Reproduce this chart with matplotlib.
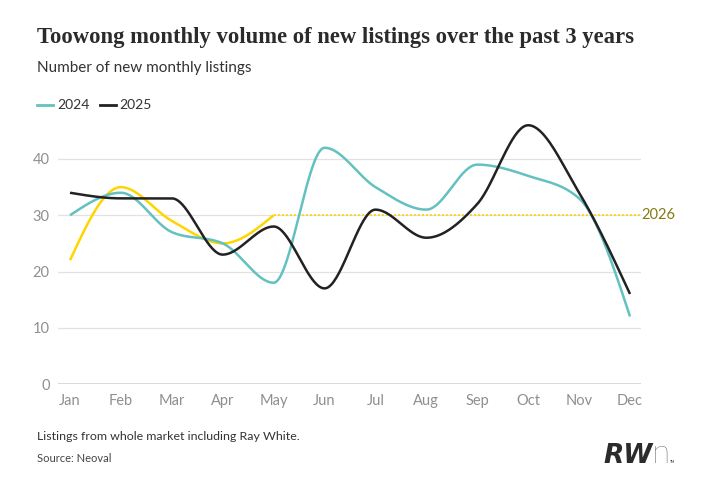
import numpy as np
import matplotlib
matplotlib.use("Agg")
import matplotlib.pyplot as plt

months = ["Jan", "Feb", "Mar", "Apr", "May", "Jun", "Jul", "Aug", "Sep", "Oct", "Nov", "Dec"]
v2024 = [30, 34, 27, 25, 18, 42, 35, 31, 39, 37, 33, 12]
v2025 = [34, 33, 33, 23, 28, 17, 31, 26, 32, 46, 34, 16]
v2026 = [22, 35, 29, 25, 30]
yticks = [0, 10, 20, 30, 40]

TEAL = "#63c1bf"
BLACK = "#222222"
GOLD = "#ffd500"


def monotone_x(x, y, n=40):
    x = np.asarray(x, float)
    y = np.asarray(y, float)
    m = len(x)
    h = np.diff(x)
    s = np.diff(y) / h
    t = np.zeros(m)
    for i in range(1, m - 1):
        h0, h1 = h[i - 1], h[i]
        s0, s1 = s[i - 1], s[i]
        p = (s0 * h1 + s1 * h0) / (h0 + h1)
        t[i] = (np.sign(s0) + np.sign(s1)) * min(abs(s0), abs(s1), 0.5 * abs(p))
    if m > 2:
        t[0] = (3 * s[0] - t[1]) / 2
        t[-1] = (3 * s[-1] - t[-2]) / 2
    else:
        t[:] = s[0]
    xs, ys = [], []
    for i in range(m - 1):
        u = np.linspace(0, 1, n)
        hh = h[i]
        h00 = 2 * u**3 - 3 * u**2 + 1
        h10 = u**3 - 2 * u**2 + u
        h01 = -2 * u**3 + 3 * u**2
        h11 = u**3 - u**2
        xs.append(x[i] + u * hh)
        ys.append(h00 * y[i] + h10 * hh * t[i] + h01 * y[i + 1] + h11 * hh * t[i + 1])
    return np.concatenate(xs), np.concatenate(ys)


plt.rcParams["font.family"] = ["Lato", "DejaVu Sans"]
fig = plt.figure(figsize=(7.08, 4.99), dpi=100)
W, H = 708, 499
ax = fig.add_axes([58 / W, (H - 384) / H, (641 - 58) / W, (384 - 114) / H])

x = np.arange(12)
xm, ym = monotone_x(x, v2024)
ax.plot(xm, ym, color=TEAL, lw=1.8, solid_capstyle="butt", zorder=3)
xm, ym = monotone_x(x, v2025)
ax.plot(xm, ym, color=BLACK, lw=1.8, solid_capstyle="butt", zorder=4)
x26 = np.arange(len(v2026))
xm, ym = monotone_x(x26, v2026)
ax.plot(xm, ym, color=GOLD, lw=1.8, solid_capstyle="butt", zorder=2)

xlim = (-0.236, 11.216)
ax.set_xlim(*xlim)
ax.set_ylim(0, 48)
ax.plot([x26[-1], xlim[1]], [v2026[-1], v2026[-1]], color=GOLD, lw=1.2,
        linestyle=(0, (1.2, 1.2)), zorder=1)
ax.text(xlim[1], v2026[-1], "2026", color="#857a10", fontsize=10.5,
        va="center", ha="left", transform=ax.transData)

ax.set_yticks(yticks)
ax.set_yticklabels([str(v) for v in yticks])
ax.set_xticks(x)
ax.set_xticklabels(months)
for yv in yticks[1:]:
    ax.axhline(yv, color="#e2e2e2", lw=0.9, zorder=0)
ax.axhline(0, color="#444444", lw=1.0, zorder=1)
for sp in ax.spines.values():
    sp.set_visible(False)
ax.tick_params(axis="both", length=0, labelsize=10.5, labelcolor="#8f8f8f")
ax.tick_params(axis="y", pad=6)
ax.tick_params(axis="x", pad=7)

# Titles
fig.text(37 / W, 1 - 43 / H, "Toowong monthly volume of new listings over the past 3 years",
         family=["Liberation Serif", "DejaVu Serif"], weight="bold", fontsize=16.3,
         color="#2b2b2b", va="baseline", ha="left")
fig.text(37 / W, 1 - 68 / H, "Number of new monthly listings", fontsize=11,
         color="#333333", va="center", ha="left")

# Legend
ly = 1 - 105 / H
fig.add_artist(plt.Line2D([37 / W, 53 / W], [ly, ly], color=TEAL, lw=2))
fig.text(57 / W, ly, "2024", fontsize=10, color="#333333", va="center", ha="left")
fig.add_artist(plt.Line2D([100 / W, 116 / W], [ly, ly], color=BLACK, lw=2))
fig.text(119 / W, ly, "2025", fontsize=10, color="#333333", va="center", ha="left")

# Footer
fig.text(37 / W, 1 - 437 / H, "Listings from whole market including Ray White.", fontsize=8.9,
         color="#333333", va="center", ha="left")
fig.text(37 / W, 1 - 458 / H, "Source: Neoval", fontsize=8,
         color="#444444", va="center", ha="left")

# Logo
fig.text(603 / W, 1 - 463 / H, "RW", fontsize=19, weight="bold", style="italic",
         family=["DejaVu Sans"], color="#2b2b2b", va="baseline", ha="left")
fig.text(652 / W, 1 - 463 / H, "n", fontsize=24, weight="light",
         family=["Lato", "DejaVu Sans"], color="#2b2b2b", va="baseline", ha="left")
fig.text(670 / W, 1 - 463 / H, "TM", fontsize=2.5,
         color="#2b2b2b", va="baseline", ha="left")

fig.savefig("out.png", dpi=100)
